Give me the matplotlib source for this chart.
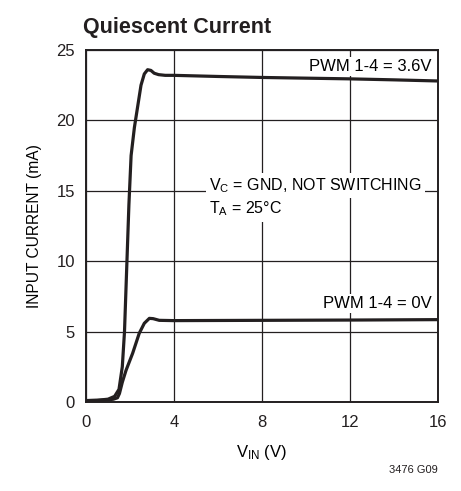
import matplotlib
matplotlib.use("Agg")
import matplotlib.pyplot as plt
from matplotlib import font_manager

names = {f.name for f in font_manager.fontManager.ttflist}
narrow = "Liberation Sans Narrow" if "Liberation Sans Narrow" in names else "Liberation Sans"
plt.rcParams['font.family'] = [narrow, 'DejaVu Sans']

# curve: VIN (V), input current (mA)
v_hi = [0, 0.5, 1.0, 1.3, 1.5, 1.65, 1.75, 1.85, 1.95, 2.05, 2.2, 2.35, 2.5,
        2.65, 2.8, 2.95, 3.1, 3.3, 3.6, 4, 6, 8, 10, 12, 14, 16]
i_hi = [0.1, 0.12, 0.2, 0.4, 0.9, 2.5, 5, 9.5, 14, 17.5, 19.5, 21, 22.5,
        23.3, 23.6, 23.55, 23.35, 23.25, 23.2, 23.2, 23.12, 23.05, 23.0, 22.95, 22.88, 22.8]
v_lo = [0, 0.6, 1.0, 1.25, 1.43, 1.52, 1.65, 1.82, 2.12, 2.42, 2.65, 2.88, 3.05,
        3.33, 4, 8, 12, 16]
i_lo = [0.1, 0.12, 0.15, 0.2, 0.3, 0.6, 1.4, 2.25, 3.46, 4.88, 5.59, 5.94, 5.92,
        5.8, 5.78, 5.8, 5.82, 5.85]

xticks = [0, 4, 8, 12, 16]
yticks = [0, 5, 10, 15, 20, 25]

fig = plt.figure(figsize=(4.61, 4.91), dpi=100)
ax = fig.add_axes([86/461, 1-402/491, 352/461, 352/491])

ax.plot(v_hi, i_hi, color='#231f20', lw=2.3, solid_capstyle='round', zorder=3)
ax.plot(v_lo, i_lo, color='#231f20', lw=2.3, solid_capstyle='round', zorder=3)

ax.set_xlim(0, 16)
ax.set_ylim(0, 25)
ax.set_xticks(xticks)
ax.set_yticks(yticks)
ax.tick_params(length=0, labelsize=12, colors='#231f20')
ax.tick_params(axis='x', pad=9.5)
ax.tick_params(axis='y', pad=8)
ax.grid(True, color='#231f20', lw=0.9)
for s in ax.spines.values():
    s.set_linewidth(1.4)
    s.set_color('#231f20')

box = dict(facecolor='white', edgecolor='none', pad=1.5)
ax.text(15.7, 23.85, 'PWM 1-4 = 3.6V', ha='right', va='center', fontsize=12,
        bbox=box, zorder=4)
ax.text(15.7, 7.0, 'PWM 1-4 = 0V', ha='right', va='center', fontsize=12,
        bbox=box, zorder=4)
ax.text(5.6, 15.05, '$\\mathregular{V_C}$ = GND, NOT SWITCHING', ha='left',
        va='baseline', fontsize=11.5, zorder=4,
        bbox=dict(facecolor='white', edgecolor='none', pad=2.5))
ax.text(5.6, 13.4, '$\\mathregular{T_A}$ = 25°C', ha='left',
        va='baseline', fontsize=11.5, zorder=4,
        bbox=dict(facecolor='white', edgecolor='none', pad=2.5))

ax.set_xlabel('$\\mathregular{V_{IN}}$ (V)', fontsize=12, labelpad=9)
ax.set_ylabel('INPUT CURRENT (mA)', fontsize=11.2, labelpad=10)

fig.text(83/461, 1-28/491, 'Quiescent Current', fontsize=15.5, fontweight='bold',
         va='center', ha='left', color='#231f20')
fig.text(438/461, 1-470/491, '3476 G09', fontsize=8, ha='right', va='center',
         color='#231f20')

fig.savefig('out.png', dpi=100)
